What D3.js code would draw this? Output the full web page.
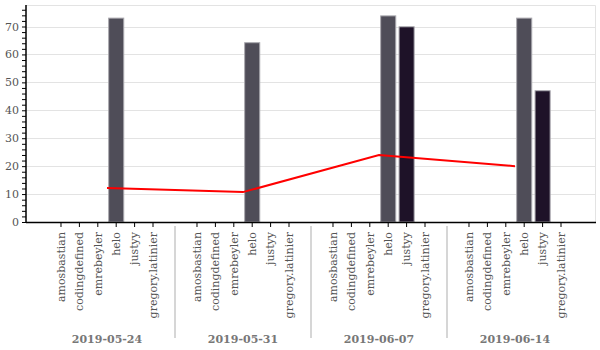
<!DOCTYPE html>
<html lang="en">
<head>
  <meta charset="UTF-8">
  <title>grouped bars</title>
  <style>
    body { margin: 0; background: #fff; }
    text { font-family: "DejaVu Serif", serif; }
  </style>
</head>
<body>
<script src="https://cdn.jsdelivr.net/npm/d3@7"></script>
<script>
  var dates = ["2019-05-24", "2019-05-31", "2019-06-07", "2019-06-14"];
  var users = ["amosbastian", "codingdefined", "emrebeyler", "helo", "justyy", "gregory.latinier"];
  // values per date for the users that have any
  var helo = [73.0, 64.2, 73.8, 73.0];
  var justyy = [0, 0, 69.9, 47.0];
  var average = [12.2, 10.7, 24.0, 20.0];
  var yTicks = [0, 10, 20, 30, 40, 50, 60, 70];

  var colors = {helo: "#4f4d58", justyy: "#1e1228"};

  var width = 600, height = 350;
  var plotLeft = 26, plotRight = 595, plotTop = 5, plotBottom = 222;

  var svg = d3.select("body").append("svg")
    .attr("width", width)
    .attr("height", height);

  var y = d3.scaleLinear().domain([0, 77.7]).range([plotBottom, plotTop]);
  var x0 = d3.scaleBand().domain(dates).range([39, 583]);
  var x1 = d3.scaleBand().domain(users).range([0, x0.bandwidth()])
    .paddingInner(0.18).paddingOuter(0.785);

  // grid
  svg.append("g").selectAll("line")
    .data(yTicks.slice(1))
    .enter().append("line")
    .attr("x1", plotLeft).attr("x2", plotRight)
    .attr("y1", function(d){ return Math.round(y(d)) + 0.5; })
    .attr("y2", function(d){ return Math.round(y(d)) + 0.5; })
    .attr("stroke", "#e3e3e3");

  // frame top/right
  svg.append("path")
    .attr("d", "M" + plotLeft + "," + (plotTop + 0.5) + "H" + (plotRight + 0.5) + "V" + plotBottom)
    .attr("fill", "none")
    .attr("stroke", "#e3e3e3");

  // bars
  var rows = dates.map(function(d, i){
    return {date: d, values: [
      {user: "helo", v: helo[i]},
      {user: "justyy", v: justyy[i]}
    ]};
  });

  var g = svg.selectAll(".group")
    .data(rows)
    .enter().append("g")
    .attr("class", "group")
    .attr("transform", function(d){ return "translate(" + x0(d.date) + ",0)"; });

  g.selectAll("rect")
    .data(function(d){ return d.values.filter(function(e){ return e.v > 0; }); })
    .enter().append("rect")
    .attr("x", function(d){ return x1(d.user); })
    .attr("width", x1.bandwidth())
    .attr("y", function(d){ return y(d.v); })
    .attr("height", function(d){ return y(0) - y(d.v); })
    .attr("fill", function(d){ return colors[d.user]; })
    .attr("stroke", "#a9a8ae")
    .attr("stroke-width", 1);

  // x axis per group
  g.append("g")
    .attr("transform", "translate(0," + plotBottom + ")")
    .call(d3.axisBottom(x1).tickSize(5).tickSizeOuter(0))
    .call(function(a){
      a.select(".domain").remove();
      a.selectAll("line").attr("stroke", "#000");
      a.selectAll("text")
        .attr("transform", "rotate(-90)")
        .attr("text-anchor", "end")
        .attr("x", -10)
        .attr("y", 0)
        .attr("dy", "0.35em")
        .attr("fill", "#555")
        .style("font-size", "11px")
        .style("font-family", "DejaVu Serif, serif");
    });

  // group labels
  g.append("text")
    .attr("x", x0.bandwidth() / 2)
    .attr("y", 343)
    .attr("text-anchor", "middle")
    .attr("fill", "#777")
    .attr("font-weight", "bold")
    .style("font-size", "11px")
    .text(function(d){ return d.date; });

  // separators
  svg.append("g").selectAll("line")
    .data(dates.slice(1))
    .enter().append("line")
    .attr("x1", function(d){ return x0(d); })
    .attr("x2", function(d){ return x0(d); })
    .attr("y1", 226).attr("y2", 338)
    .attr("stroke", "#d6d6d6")
    .attr("stroke-width", 2);

  // main x domain
  svg.append("line")
    .attr("x1", plotLeft).attr("x2", plotRight + 1)
    .attr("y1", plotBottom + 0.5).attr("y2", plotBottom + 0.5)
    .attr("stroke", "#000").attr("stroke-width", 1.5);

  // y axis
  var yAxis = svg.append("g")
    .attr("transform", "translate(" + plotLeft + ",0)")
    .call(d3.axisLeft(y).tickValues(d3.range(0, 78, 2)).tickSize(4).tickSizeOuter(0)
      .tickFormat(function(d){ return yTicks.indexOf(d) >= 0 ? d : ""; }));
  yAxis.select(".domain").attr("stroke", "#000").attr("stroke-width", 1.5)
    .attr("d", "M0," + plotTop + "V" + plotBottom);
  yAxis.selectAll("line").attr("stroke", "#000");
  yAxis.selectAll("text")
    .attr("x", -7)
    .attr("fill", "#555")
    .style("font-size", "11px")
    .style("font-family", "DejaVu Serif, serif");

  // average line
  var line = d3.line()
    .x(function(d, i){ return x0(dates[i]) + x0.bandwidth() / 2; })
    .y(function(d){ return y(d); });

  svg.append("path")
    .datum(average)
    .attr("fill", "none")
    .attr("stroke", "#ff0000")
    .attr("stroke-width", 2)
    .attr("d", line);
</script>
</body>
</html>
